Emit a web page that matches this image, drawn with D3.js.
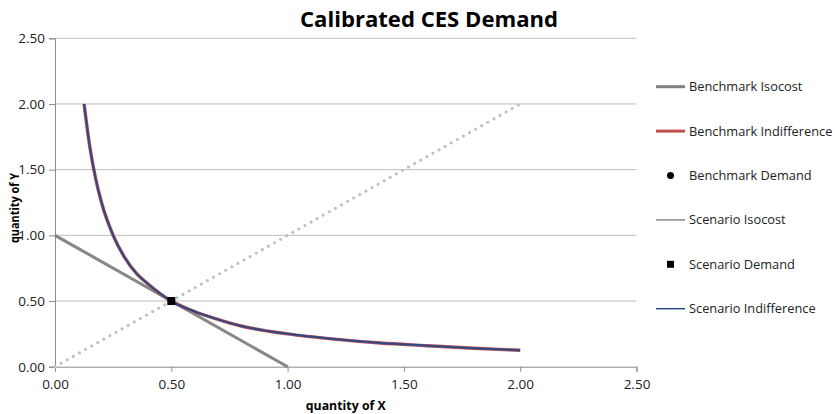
<!DOCTYPE html>
<html>
<head>
<meta charset="utf-8">
<script src="https://cdn.jsdelivr.net/npm/d3@7"></script>
<style>
  html, body { margin: 0; padding: 0; background: #fff; }
  svg { display: block; font-family: "Open Sans", "Noto Sans", sans-serif; }
</style>
</head>
<body>
<svg id="chart" width="835" height="414"></svg>
<script>
// Axis ticks
const xTicks = [0, 0.5, 1.0, 1.5, 2.0, 2.5];
const yTicks = [0, 0.5, 1.0, 1.5, 2.0, 2.5];

// Budget line (isocost), benchmark and scenario coincide
const isocostX = [0, 1];
const isocostY = [1, 0];

// Indifference curve, benchmark and scenario coincide
const indiffX = [0.125, 0.15, 0.175, 0.2, 0.25, 0.3, 0.35, 0.4, 0.5, 0.6, 0.7, 0.8, 1.0, 1.2, 1.4, 1.6, 1.8, 2.0];
const indiffY = [2.0, 1.67, 1.43, 1.25, 1.0, 0.83, 0.71, 0.63, 0.5, 0.42, 0.36, 0.31, 0.25, 0.21, 0.18, 0.16, 0.14, 0.125];

// Expansion path (ray through the origin)
const rayX = [0, 2];
const rayY = [0, 2];

// Demand points
const demandX = [0.5];
const demandY = [0.5];

const legendLabels = ["Benchmark Isocost", "Benchmark Indifference", "Benchmark Demand",
                      "Scenario Isocost", "Scenario Demand", "Scenario Indifference"];

const svg = d3.select("#chart");
const x = d3.scaleLinear().domain([0, 2.5]).range([55, 636.5]);
const y = d3.scaleLinear().domain([0, 2.5]).range([366.7, 38.3]);

const zip = (a, b) => a.map((v, i) => [v, b[i]]);

// Title
svg.append("text")
  .attr("x", 429).attr("y", 27)
  .attr("text-anchor", "middle")
  .attr("font-size", 22).attr("font-weight", "bold")
  .attr("fill", "#000")
  .attr("textLength", 258).attr("lengthAdjust", "spacingAndGlyphs")
  .text("Calibrated CES Demand");

// Horizontal gridlines
svg.append("g").selectAll("line").data(yTicks.filter(d => d > 0)).join("line")
  .attr("x1", x(0)).attr("x2", x(2.5))
  .attr("y1", d => y(d)).attr("y2", d => y(d))
  .attr("stroke", "#bdbdbd").attr("stroke-width", 1);

// Axes
const xAxis = d3.axisBottom(x).tickValues(xTicks).tickFormat(d3.format(".2f")).tickSizeOuter(0).tickSize(5).tickPadding(6);
const yAxis = d3.axisLeft(y).tickValues(yTicks).tickFormat(d3.format(".2f")).tickSizeOuter(0).tickSize(6).tickPadding(4);

const gx = svg.append("g").attr("transform", `translate(0,${y(0)})`).call(xAxis);
const gy = svg.append("g").attr("transform", `translate(${x(0)},0)`).call(yAxis);
[gx, gy].forEach(g => {
  g.select(".domain").attr("stroke", "#8c8c8c");
  g.selectAll(".tick line").attr("stroke", "#8c8c8c");
  g.selectAll(".tick text").attr("font-size", 13.5).attr("fill", "#222")
    .attr("font-family", "'Open Sans', sans-serif");
});
gx.selectAll(".tick text").attr("dy", "0.85em");

// Axis titles
svg.append("text")
  .attr("x", (x(0) + x(2.5)) / 2).attr("y", 410)
  .attr("text-anchor", "middle")
  .attr("font-size", 12).attr("font-weight", "bold").attr("fill", "#000")
  .attr("textLength", 80).attr("lengthAdjust", "spacingAndGlyphs")
  .text("quantity of X");

svg.append("text")
  .attr("transform", "translate(19,208) rotate(-90)")
  .attr("text-anchor", "middle")
  .attr("font-size", 12.5).attr("font-weight", "bold").attr("fill", "#000")
  .attr("textLength", 70).attr("lengthAdjust", "spacingAndGlyphs")
  .text("quantity of Y");

const line = d3.line().x(d => x(d[0])).y(d => y(d[1]));
const curve = d3.line().x(d => x(d[0])).y(d => y(d[1])).curve(d3.curveMonotoneX);

// Expansion path, dotted
svg.append("path")
  .attr("d", line(zip(rayX, rayY)))
  .attr("fill", "none").attr("stroke", "#c0c0c0").attr("stroke-width", 3)
  .attr("stroke-linecap", "round").attr("stroke-dasharray", "0.1 6.9");

// Benchmark isocost
svg.append("path")
  .attr("d", line(zip(isocostX, isocostY)))
  .attr("fill", "none").attr("stroke", "#808080").attr("stroke-width", 3);

// Scenario isocost
svg.append("path")
  .attr("d", line(zip(isocostX, isocostY)))
  .attr("fill", "none").attr("stroke", "#8a8a8a").attr("stroke-width", 1.5);

// Benchmark indifference
svg.append("path")
  .attr("d", curve(zip(indiffX, indiffY)))
  .attr("fill", "none").attr("stroke", "#c0504d").attr("stroke-width", 3.4);

// Scenario indifference
svg.append("path")
  .attr("d", curve(zip(indiffX, indiffY)))
  .attr("fill", "none").attr("stroke", "#2b4a8a").attr("stroke-width", 2);

// Benchmark demand
svg.append("g").selectAll("circle").data(zip(demandX, demandY)).join("circle")
  .attr("cx", d => x(d[0])).attr("cy", d => y(d[1])).attr("r", 3.5).attr("fill", "#000");

// Scenario demand
svg.append("g").selectAll("rect").data(zip(demandX, demandY)).join("rect")
  .attr("x", d => x(d[0]) - 4).attr("y", d => y(d[1]) - 4)
  .attr("width", 8).attr("height", 8).attr("fill", "#000");

// Legend
const legendStyles = [
  {type: "line", color: "#808080", width: 3},
  {type: "line", color: "#c0504d", width: 3},
  {type: "circle"},
  {type: "line", color: "#8a8a8a", width: 1.5},
  {type: "square"},
  {type: "line", color: "#2b4a8a", width: 1.5}
];
const lg = svg.append("g");
legendLabels.forEach((label, i) => {
  const cy = 86.7 + i * 44.4;
  const s = legendStyles[i];
  if (s.type === "line") {
    lg.append("line").attr("x1", 656).attr("x2", 685).attr("y1", cy).attr("y2", cy)
      .attr("stroke", s.color).attr("stroke-width", s.width);
  } else if (s.type === "circle") {
    lg.append("circle").attr("cx", 670.5).attr("cy", cy).attr("r", 3.5).attr("fill", "#000");
  } else {
    lg.append("rect").attr("x", 667).attr("y", cy - 3.5).attr("width", 7).attr("height", 7).attr("fill", "#000");
  }
  lg.append("text").attr("x", 689).attr("y", cy).attr("dy", "0.35em")
    .attr("font-size", 12.8).attr("fill", "#222").text(label);
});
</script>
</body>
</html>
